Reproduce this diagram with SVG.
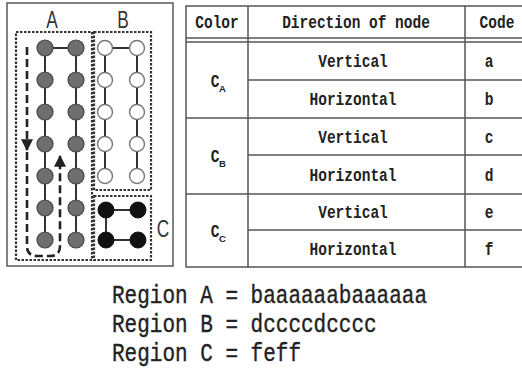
<svg xmlns="http://www.w3.org/2000/svg" width="522" height="377" viewBox="0 0 522 377">
  <style>
    .frame { fill: none; stroke: #5a5a5a; stroke-width: 1.5; }
    .region { fill: none; stroke: #333; stroke-width: 2.2; stroke-dasharray: 2.5 1.5; }
    .link { stroke: #333; stroke-width: 2; fill: none; }
    .nodeA { fill: #6e6e6e; stroke: #444; stroke-width: 1.2; }
    .nodeB { fill: #fff; stroke: #777; stroke-width: 1.4; }
    .nodeC { fill: #111; stroke: #111; stroke-width: 1; }
    .path { fill: none; stroke: #222; stroke-width: 2.6; stroke-dasharray: 8 4; }
    .lbl { font-family: "Liberation Sans", Arial, sans-serif; font-size: 24px; fill: #333; }
    .grid { stroke: #555; stroke-width: 1.5; fill: none; }
    .tt { font-family: "Liberation Mono", "DejaVu Sans Mono", monospace; font-weight: bold; font-size: 14.5px; fill: #222; text-anchor: middle; }
    .sub { font-family: "Liberation Sans", Arial, sans-serif; font-weight: bold; font-size: 9.5px; fill: #222; }
    .eq { font-family: "Liberation Mono", "DejaVu Sans Mono", monospace; font-size: 21px; fill: #222; stroke: #222; stroke-width: 0.3; }
  </style>
  <defs>
    <marker id="tri" viewBox="0 0 10 10" refX="9" refY="5" markerWidth="4.6" markerHeight="4.6" orient="auto" markerUnits="strokeWidth">
      <path d="M0,0 L10,5 L0,10 z" fill="#222"/>
    </marker>
  </defs>

  <!-- left panel frame -->
  <rect class="frame" x="7" y="3" width="166" height="263"/>

  <!-- region labels -->
  <text class="lbl" transform="translate(52,28) scale(0.72,1)" text-anchor="middle">A</text>
  <text class="lbl" transform="translate(123,28) scale(0.72,1)" text-anchor="middle">B</text>
  <text class="lbl" transform="translate(163,237) scale(0.72,1)" text-anchor="middle">C</text>

  <!-- region boxes -->
  <rect class="region" x="16" y="32" width="76" height="228"/>
  <rect class="region" x="94" y="32" width="57" height="158"/>
  <rect class="region" x="94" y="196" width="57" height="64"/>

  <!-- connectors -->
  <g id="connectors">
    <!-- region A -->
    <line class="link" x1="45" y1="48" x2="76" y2="48"/>
    <line class="link" x1="45" y1="48" x2="45" y2="240"/>
    <line class="link" x1="76" y1="48" x2="76" y2="240"/>
    <!-- region B -->
    <line class="link" x1="105" y1="48" x2="137" y2="48"/>
    <line class="link" x1="105" y1="48" x2="105" y2="176"/>
    <line class="link" x1="137" y1="48" x2="137" y2="176"/>
    <!-- region C -->
    <line class="link" x1="106" y1="210" x2="138" y2="210"/>
    <line class="link" x1="106" y1="210" x2="106" y2="240"/>
    <line class="link" x1="106" y1="240" x2="138" y2="240"/>
    <!-- scan order in region A -->
    <path class="path" d="M27,47 L27,150" marker-end="url(#tri)"/>
    <path class="path" d="M27,152 L27,246 Q27,256 37,256 L50,256 Q60,256 60,246 L60,156" marker-end="url(#tri)"/>
  </g>

  <!-- region A nodes -->
  <g id="regionA">
    <circle class="nodeA" cx="45" cy="48" r="8"/>
    <circle class="nodeA" cx="45" cy="80" r="8"/>
    <circle class="nodeA" cx="45" cy="112" r="8"/>
    <circle class="nodeA" cx="45" cy="144" r="8"/>
    <circle class="nodeA" cx="45" cy="176" r="8"/>
    <circle class="nodeA" cx="45" cy="208" r="8"/>
    <circle class="nodeA" cx="45" cy="240" r="8"/>
    <circle class="nodeA" cx="76" cy="48" r="8"/>
    <circle class="nodeA" cx="76" cy="80" r="8"/>
    <circle class="nodeA" cx="76" cy="112" r="8"/>
    <circle class="nodeA" cx="76" cy="144" r="8"/>
    <circle class="nodeA" cx="76" cy="176" r="8"/>
    <circle class="nodeA" cx="76" cy="208" r="8"/>
    <circle class="nodeA" cx="76" cy="240" r="8"/>
  </g>

  <!-- region B nodes -->
  <g id="regionB">
    <circle class="nodeB" cx="105" cy="48" r="7.5"/>
    <circle class="nodeB" cx="105" cy="80" r="7.5"/>
    <circle class="nodeB" cx="105" cy="112" r="7.5"/>
    <circle class="nodeB" cx="105" cy="144" r="7.5"/>
    <circle class="nodeB" cx="105" cy="176" r="7.5"/>
    <circle class="nodeB" cx="137" cy="48" r="7.5"/>
    <circle class="nodeB" cx="137" cy="80" r="7.5"/>
    <circle class="nodeB" cx="137" cy="112" r="7.5"/>
    <circle class="nodeB" cx="137" cy="144" r="7.5"/>
    <circle class="nodeB" cx="137" cy="176" r="7.5"/>
  </g>

  <!-- region C nodes -->
  <g id="regionC">
    <circle class="nodeC" cx="106" cy="210" r="8"/>
    <circle class="nodeC" cx="138" cy="210" r="8"/>
    <circle class="nodeC" cx="106" cy="240" r="8"/>
    <circle class="nodeC" cx="138" cy="240" r="8"/>
  </g>

  <!-- code table -->
  <g id="table">
    <rect class="grid" x="186" y="6" width="350" height="261"/>
    <line class="grid" x1="248" y1="6" x2="248" y2="267"/>
    <line class="grid" x1="465" y1="6" x2="465" y2="267"/>
    <line class="grid" x1="186" y1="38" x2="522" y2="38"/>
    <line class="grid" x1="186" y1="42" x2="522" y2="42"/>
    <line class="grid" x1="248" y1="80" x2="522" y2="80"/>
    <line class="grid" x1="186" y1="118" x2="522" y2="118"/>
    <line class="grid" x1="248" y1="155" x2="522" y2="155"/>
    <line class="grid" x1="186" y1="194" x2="522" y2="194"/>
    <line class="grid" x1="248" y1="230" x2="522" y2="230"/>

    <text class="tt" transform="translate(217,28) scale(1,1.3)">Color</text>
    <text class="tt" transform="translate(356,28) scale(1,1.3)">Direction of node</text>
    <text class="tt" transform="translate(497,28) scale(1,1.3)">Code</text>

    <text class="tt" transform="translate(353,67) scale(1,1.3)">Vertical</text>
    <text class="tt" transform="translate(353,105) scale(1,1.3)">Horizontal</text>
    <text class="tt" transform="translate(353,143) scale(1,1.3)">Vertical</text>
    <text class="tt" transform="translate(353,181) scale(1,1.3)">Horizontal</text>
    <text class="tt" transform="translate(353,218) scale(1,1.3)">Vertical</text>
    <text class="tt" transform="translate(353,255) scale(1,1.3)">Horizontal</text>

    <text class="tt" transform="translate(489,67) scale(1,1.3)">a</text>
    <text class="tt" transform="translate(489,105) scale(1,1.3)">b</text>
    <text class="tt" transform="translate(489,143) scale(1,1.3)">c</text>
    <text class="tt" transform="translate(489,181) scale(1,1.3)">d</text>
    <text class="tt" transform="translate(489,218) scale(1,1.3)">e</text>
    <text class="tt" transform="translate(489,255) scale(1,1.3)">f</text>

    <text class="tt" transform="translate(215,87) scale(1,1.3)">C</text>
    <text class="sub" x="219" y="92">A</text>
    <text class="tt" transform="translate(215,162) scale(1,1.3)">C</text>
    <text class="sub" x="219" y="167">B</text>
    <text class="tt" transform="translate(215,237) scale(1,1.3)">C</text>
    <text class="sub" x="219" y="242">C</text>
  </g>

  <!-- encoded strings -->
  <text class="eq" transform="translate(112,303) scale(1,1.25)">Region A = baaaaaabaaaaaa</text>
  <text class="eq" transform="translate(112,332) scale(1,1.25)">Region B = dccccdcccc</text>
  <text class="eq" transform="translate(112,361) scale(1,1.25)">Region C = feff</text>
</svg>
